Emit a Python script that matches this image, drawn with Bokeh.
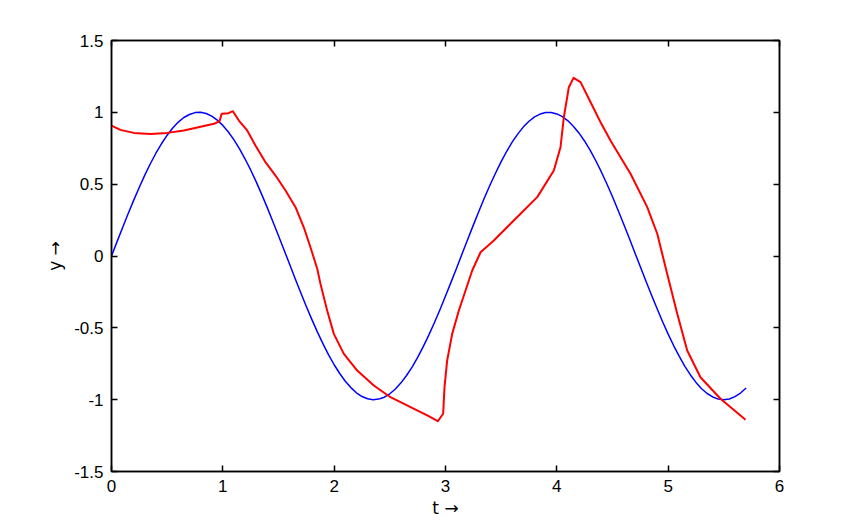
from bokeh.plotting import figure
from bokeh.models import Range1d, LinearAxis, FixedTicker
from bokeh.embed import file_html
from bokeh.resources import INLINE

# Blue series
t_blue = [0.00, 0.05, 0.10, 0.15, 0.20, 0.25, 0.30, 0.35, 0.40, 0.45,
          0.50, 0.55, 0.60, 0.65, 0.70, 0.75, 0.80, 0.85, 0.90, 0.95,
          1.00, 1.05, 1.10, 1.15, 1.20, 1.25, 1.30, 1.35, 1.40, 1.45,
          1.50, 1.55, 1.60, 1.65, 1.70, 1.75, 1.80, 1.85, 1.90, 1.95,
          2.00, 2.05, 2.10, 2.15, 2.20, 2.25, 2.30, 2.35, 2.40, 2.45,
          2.50, 2.55, 2.60, 2.65, 2.70, 2.75, 2.80, 2.85, 2.90, 2.95,
          3.00, 3.05, 3.10, 3.15, 3.20, 3.25, 3.30, 3.35, 3.40, 3.45,
          3.50, 3.55, 3.60, 3.65, 3.70, 3.75, 3.80, 3.85, 3.90, 3.95,
          4.00, 4.05, 4.10, 4.15, 4.20, 4.25, 4.30, 4.35, 4.40, 4.45,
          4.50, 4.55, 4.60, 4.65, 4.70, 4.75, 4.80, 4.85, 4.90, 4.95,
          5.00, 5.05, 5.10, 5.15, 5.20, 5.25, 5.30, 5.35, 5.40, 5.45,
          5.50, 5.55, 5.60, 5.65, 5.70]
y_blue = [0.000, 0.100, 0.199, 0.296, 0.389, 0.479, 0.565, 0.644, 0.717, 0.783,
          0.841, 0.891, 0.932, 0.964, 0.985, 0.998, 1.000, 0.992, 0.974, 0.946,
          0.909, 0.863, 0.808, 0.746, 0.675, 0.599, 0.516, 0.427, 0.335, 0.239,
          0.141, 0.042, -0.058, -0.158, -0.256, -0.351, -0.443, -0.530, -0.612, -0.688,
          -0.757, -0.818, -0.872, -0.916, -0.952, -0.978, -0.994, -1.000, -0.996, -0.983,
          -0.959, -0.926, -0.883, -0.832, -0.773, -0.706, -0.631, -0.551, -0.465, -0.374,
          -0.279, -0.182, -0.083, 0.017, 0.117, 0.215, 0.312, 0.405, 0.494, 0.578,
          0.657, 0.729, 0.794, 0.850, 0.899, 0.938, 0.968, 0.988, 0.999, 0.999,
          0.989, 0.970, 0.941, 0.902, 0.855, 0.799, 0.735, 0.663, 0.585, 0.501,
          0.412, 0.319, 0.223, 0.125, 0.025, -0.075, -0.174, -0.272, -0.366, -0.458,
          -0.544, -0.625, -0.699, -0.768, -0.828, -0.880, -0.924, -0.957, -0.981, -0.996,
          -1.000, -0.995, -0.979, -0.954, -0.919]

# Red series
t_red = [0.00, 0.08, 0.20, 0.35, 0.50, 0.65, 0.80, 0.92, 0.97, 0.99,
         1.05, 1.09, 1.144, 1.219, 1.293, 1.383, 1.473, 1.563, 1.653, 1.727,
         1.787, 1.848, 1.877, 1.937, 1.997, 2.087, 2.207, 2.356, 2.506, 2.686,
         2.836, 2.931, 2.979, 2.991, 3.015, 3.060, 3.120, 3.180, 3.240, 3.315,
         3.434, 3.584, 3.674, 3.824, 3.973, 4.033, 4.063, 4.108, 4.150, 4.213,
         4.310, 4.400, 4.482, 4.572, 4.662, 4.812, 4.902, 4.991, 5.081, 5.171,
         5.290, 5.470, 5.695]
y_red = [0.908, 0.878, 0.857, 0.850, 0.857, 0.873, 0.900, 0.920, 0.938, 0.990,
         0.994, 1.008, 0.943, 0.874, 0.769, 0.653, 0.560, 0.456, 0.340, 0.200,
         0.061, -0.089, -0.194, -0.379, -0.542, -0.681, -0.797, -0.901, -0.983, -1.052,
         -1.110, -1.150, -1.098, -0.913, -0.727, -0.542, -0.379, -0.240, -0.101, 0.026,
         0.108, 0.224, 0.294, 0.410, 0.595, 0.757, 0.966, 1.175, 1.240, 1.210,
         1.060, 0.920, 0.804, 0.688, 0.572, 0.340, 0.155, -0.124, -0.400, -0.658,
         -0.844, -0.994, -1.140]

x_ticks = [0, 1, 2, 3, 4, 5, 6]
x_tick_labels = ["0", "1", "2", "3", "4", "5", "6"]
y_ticks = [-1.5, -1.0, -0.5, 0.0, 0.5, 1.0, 1.5]
y_tick_labels = ["-1.5", "-1", "-0.5", "0", "0.5", "1", "1.5"]

FONT = "Liberation Sans"
FS = "17px"

W, H = 850, 520
p = figure(width=W, height=H, output_backend="svg", toolbar_location=None,
           x_range=Range1d(0, 6), y_range=Range1d(-1.5, 1.5),
           min_border_left=111, min_border_right=W - 779, min_border_top=40,
           min_border_bottom=H - 471,
           x_axis_label="t \u2192", y_axis_label="y \u2192")
p.grid.visible = False
p.outline_line_color = "black"
p.outline_line_width = 1.5
p.background_fill_color = "white"
p.border_fill_color = "white"

p.line(t_blue, y_blue, line_color="#0000ff", line_width=1.5, line_join="round")
p.line(t_red, y_red, line_color="#ff0000", line_width=2, line_join="round")

xo = {v: s for v, s in zip(x_ticks, x_tick_labels)}
yo = {v: s for v, s in zip(y_ticks, y_tick_labels)}

def style(ax, ticks, overrides):
    ax.ticker = FixedTicker(ticks=ticks)
    ax.minor_tick_line_color = None
    ax.major_tick_in = 6
    ax.major_tick_out = 0
    ax.major_tick_line_color = "black"
    ax.major_tick_line_width = 1.5
    ax.axis_line_color = "black"
    ax.axis_line_width = 1.5
    ax.major_label_overrides = overrides
    ax.major_label_text_font = FONT
    ax.major_label_text_font_size = FS
    ax.major_label_text_color = "black"
    ax.major_label_standoff = 8
    ax.axis_label_text_font = "DejaVu Sans"
    ax.axis_label_text_font_size = "17px"
    ax.axis_label_text_font_style = "normal"
    ax.axis_label_text_color = "black"

style(p.xaxis[0], x_ticks, xo)
p.xaxis[0].axis_label_standoff = 3
style(p.yaxis[0], y_ticks, yo)
p.yaxis[0].axis_label_standoff = 6

top = LinearAxis()
style(top, x_ticks, xo)
top.major_label_text_font_size = "0px"
top.major_label_text_color = None
p.add_layout(top, "above")
right = LinearAxis()
style(right, y_ticks, yo)
right.major_label_text_font_size = "0px"
right.major_label_text_color = None
p.add_layout(right, "right")

open("out.html", "w").write(file_html(p, INLINE))
